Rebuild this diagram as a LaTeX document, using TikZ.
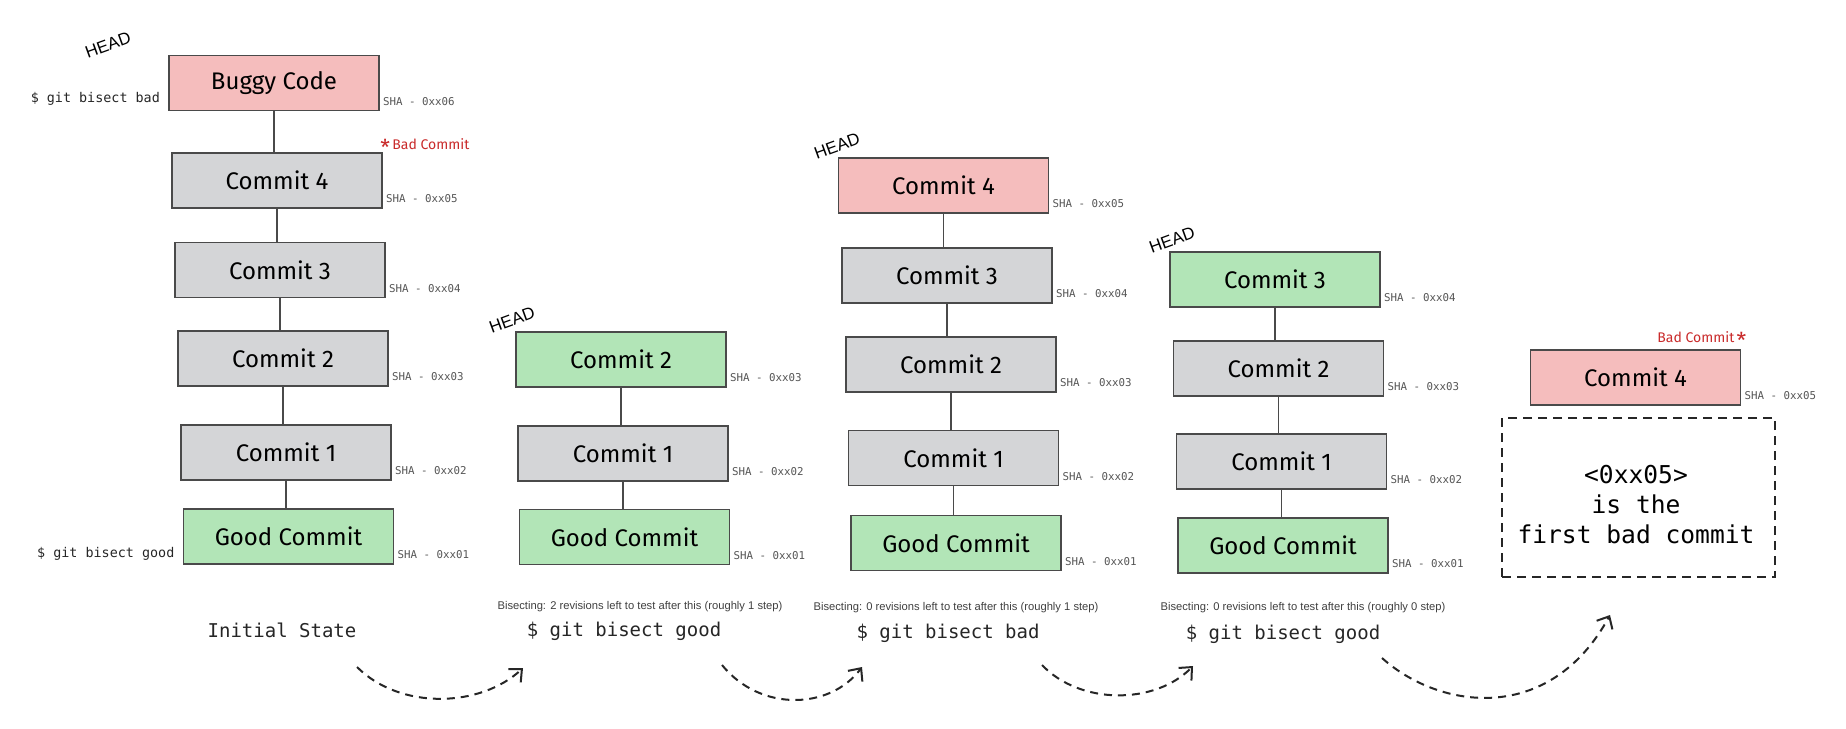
\documentclass[tikz,border=0pt]{standalone}
\usepackage{fontspec}
\setmainfont{Liberation Sans}
\newfontfamily\handfont{Fira Sans}
\newfontfamily\monofont{DejaVu Sans Mono}
\usetikzlibrary{arrows.meta,calc}
\definecolor{badfill}{HTML}{F5BDBD}
\definecolor{midfill}{HTML}{D4D5D7}
\definecolor{goodfill}{HTML}{B2E5B7}
\definecolor{edgegrey}{HTML}{4A4A4A}
\definecolor{shagrey}{HTML}{555555}
\definecolor{badred}{HTML}{C92A2A}
\begin{document}
\begin{tikzpicture}[x=0.5pt,y=-0.5pt,
  commit/.style={draw=edgegrey, line width=0.75pt, minimum width=105pt, minimum height=27.5pt, inner sep=0pt, font=\handfont\fontsize{12}{14}\selectfont},
  bad/.style={commit, fill=badfill},
  mid/.style={commit, fill=midfill},
  good/.style={commit, fill=goodfill},
  link/.style={draw=edgegrey, line width=0.8pt},
  sha/.style={anchor=west, font=\monofont\fontsize{5.4}{6}\selectfont, text=shagrey, inner sep=0pt},
  headlbl/.style={font=\fontsize{8.5}{9}\selectfont, rotate=20, inner sep=0pt},
  cmdside/.style={anchor=east, font=\monofont\fontsize{6.7}{8}\selectfont, text=black!85, inner sep=0pt},
  cmd/.style={anchor=base, font=\monofont\fontsize{9.5}{11}\selectfont, text=black!85, inner sep=0pt},
  bisect/.style={anchor=base, font=\fontsize{5.6}{6.5}\selectfont, text=black!75, inner sep=0pt},
  badnote/.style={anchor=west, font=\handfont\fontsize{7}{8}\selectfont, text=badred, inner sep=0pt},
  flow/.style={dash pattern=on 4pt off 3pt, line width=1pt, draw=black!85, -{Straight Barb[length=5pt,width=9pt]}},
  result/.style={draw=black!85, dash pattern=on 4.5pt off 3pt, line width=1pt, minimum width=136.5pt, minimum height=79.5pt, inner sep=0pt},
  resulttext/.style={inner sep=0pt, align=center, font=\monofont\fontsize{12.3}{15}\selectfont}
]
\useasboundingbox (0,0) rectangle (1846,728);
\fill[white] (0,0) rectangle (1846,728);

% ---------- column 1 : initial state ----------
\node[bad]  (a6) at (274,83)    {Buggy Code};
\node[mid]  (a5) at (277,180.5) {Commit 4};
\node[mid]  (a4) at (280,270)   {Commit 3};
\node[mid]  (a3) at (283,358.5) {Commit 2};
\node[mid]  (a2) at (286,452.5) {Commit 1};
\node[good] (a1) at (288.5,536.5) {Good Commit};
\foreach \u/\l in {a6/a5,a5/a4,a4/a3,a3/a2,a2/a1}
  \draw[link] (\u.south) -- (\u.south |- \l.north);
\node[sha] (a6s) at ($(a6.south east)+(3,-10)$) {SHA - 0xx06};
\node[sha] (a5s) at ($(a5.south east)+(3,-10)$) {SHA - 0xx05};
\node[sha] (a4s) at ($(a4.south east)+(3,-10)$) {SHA - 0xx04};
\node[sha] (a3s) at ($(a3.south east)+(3,-10)$) {SHA - 0xx03};
\node[sha] (a2s) at ($(a2.south east)+(3,-10)$) {SHA - 0xx02};
\node[sha] (a1s) at ($(a1.south east)+(3,-10)$) {SHA - 0xx01};
\node[headlbl] (ahead) at (108,45) {HEAD};
\node[cmdside] (abad) at ($(a6.west)+(-8,16)$) {\$ git bisect bad};
\node[cmdside] (agood) at ($(a1.west)+(-8,17)$) {\$ git bisect good};
\node[badnote] (anote) at (380,147) {\raisebox{-2.6pt}{\fontsize{11}{11}\selectfont *}\,Bad Commit};
\node[cmd] (alabel) at (282,637) {Initial State};

% ---------- column 2 ----------
\node[good] (b3) at (621,359.5) {Commit 2};
\node[mid]  (b2) at (623,453.5) {Commit 1};
\node[good] (b1) at (624.5,537) {Good Commit};
\foreach \u/\l in {b3/b2,b2/b1}
  \draw[link] (\u.south) -- (\u.south |- \l.north);
\node[sha] (b3s) at ($(b3.south east)+(3,-10)$) {SHA - 0xx03};
\node[sha] (b2s) at ($(b2.south east)+(3,-10)$) {SHA - 0xx02};
\node[sha] (b1s) at ($(b1.south east)+(3,-10)$) {SHA - 0xx01};
\node[headlbl] (bhead) at (512,320) {HEAD};
\node[bisect] (bbis) at (640,609) {Bisecting: 2 revisions left to test after this (roughly 1 step)};
\node[cmd] (blabel) at (624,636) {\$ git bisect good};

% ---------- column 3 ----------
\node[bad]  (c5) at (943.5,185.5) {Commit 4};
\node[mid]  (c4) at (947,275.5) {Commit 3};
\node[mid]  (c3) at (951,364.5) {Commit 2};
\node[mid]  (c2) at (953.5,458) {Commit 1};
\node[good] (c1) at (956,543) {Good Commit};
\foreach \u/\l in {c5/c4,c4/c3,c3/c2,c2/c1}
  \draw[link] (\u.south) -- (\u.south |- \l.north);
\node[sha] (c5s) at ($(c5.south east)+(3,-10)$) {SHA - 0xx05};
\node[sha] (c4s) at ($(c4.south east)+(3,-10)$) {SHA - 0xx04};
\node[sha] (c3s) at ($(c3.south east)+(3,-10)$) {SHA - 0xx03};
\node[sha] (c2s) at ($(c2.south east)+(3,-10)$) {SHA - 0xx02};
\node[sha] (c1s) at ($(c1.south east)+(3,-10)$) {SHA - 0xx01};
\node[headlbl] (chead) at (837,146) {HEAD};
\node[bisect] (cbis) at (956,610) {Bisecting: 0 revisions left to test after this (roughly 1 step)};
\node[cmd] (clabel) at (948,638) {\$ git bisect bad};

% ---------- column 4 ----------
\node[good] (d4) at (1275,279.5) {Commit 3};
\node[mid]  (d3) at (1278.5,368.5) {Commit 2};
\node[mid]  (d2) at (1281.5,461.5) {Commit 1};
\node[good] (d1) at (1283,545.5) {Good Commit};
\foreach \u/\l in {d4/d3,d3/d2,d2/d1}
  \draw[link] (\u.south) -- (\u.south |- \l.north);
\node[sha] (d4s) at ($(d4.south east)+(3,-10)$) {SHA - 0xx04};
\node[sha] (d3s) at ($(d3.south east)+(3,-10)$) {SHA - 0xx03};
\node[sha] (d2s) at ($(d2.south east)+(3,-10)$) {SHA - 0xx02};
\node[sha] (d1s) at ($(d1.south east)+(3,-10)$) {SHA - 0xx01};
\node[headlbl] (dhead) at (1172,240) {HEAD};
\node[bisect] (dbis) at (1303,610) {Bisecting: 0 revisions left to test after this (roughly 0 step)};
\node[cmd] (dlabel) at (1283,639) {\$ git bisect good};

% ---------- column 5 : result ----------
\node[bad] (e5) at (1635.5,377.5) {Commit 4};
\node[sha] (e5s) at ($(e5.south east)+(3,-10)$) {SHA - 0xx05};
\node[badnote] (enote) at (1657,340) {Bad Commit\,\raisebox{-2.6pt}{\fontsize{11}{11}\selectfont *}};
\node[result] (final) at (1638.5,497.5) {};
\node[resulttext] (finaltext) at (1636,505) {<0xx05>\\is the\\first bad commit};

% ---------- flow arrows ----------
\coordinate (f1s) at (357,667);  \coordinate (f1e) at (523,668);
\coordinate (f2s) at (722,665);  \coordinate (f2e) at (862,667);
\coordinate (f3s) at (1042,665); \coordinate (f3e) at (1193,666);
\coordinate (f4s) at (1382,658); \coordinate (f4e) at (1610,615);
\draw[flow] (f1s) .. controls (400,710) and (480,708) .. (f1e);
\draw[flow] (f2s) .. controls (760,712) and (830,710) .. (f2e);
\draw[flow] (f3s) .. controls (1080,705) and (1155,705) .. (f3e);
\draw[flow] (f4s) .. controls (1440,710) and (1550,725) .. (f4e);
\end{tikzpicture}
\end{document}
